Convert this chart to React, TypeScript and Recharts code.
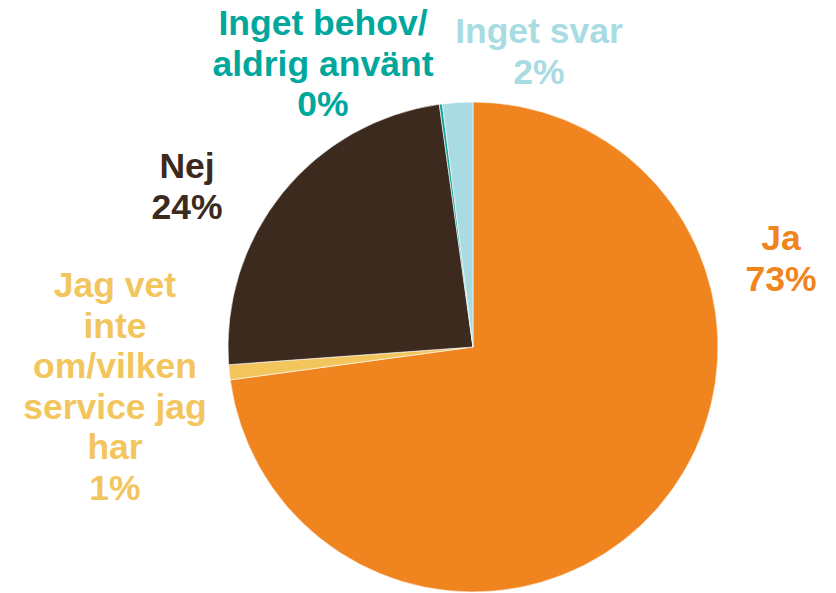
import { Cell, Pie, PieChart } from 'recharts';

// Survey answers, clockwise from 12 o'clock
const categories = ['Ja', 'Jag vet inte om/vilken service jag har', 'Nej', 'Inget behov/ aldrig använt', 'Inget svar'];
const shares = [73, 1, 24, 0.2, 2];
const labelLines = [
  ['Ja'],
  ['Jag vet', 'inte', 'om/vilken', 'service jag', 'har'],
  ['Nej'],
  ['Inget behov/', 'aldrig använt'],
  ['Inget svar'],
];

const COLORS = ['#F0841F', '#F3C55D', '#3B2A1D', '#0FA49B', '#A9DCE2'];
const LABEL_COLORS = ['#F0841F', '#F3C55D', '#3B2A1D', '#00A79D', '#A9DCE2'];

// label block anchor (centre x, first baseline) relative to pie centre
const LABEL_OFFSETS = [
  [308, -97],
  [-358, -50],
  [-286, -169],
  [-150, -312],
  [66, -304],
];

const WIDTH = 836;
const HEIGHT = 593;
const CX = 473;
const CY = 347;
const RADIUS = 245;
const LINE_H = 40.5;

const data = categories.map((name, i) => ({ name, value: shares[i] }));

function renderLabel(props: any) {
  const { cx, cy, index, percent } = props;
  const [dx, dy] = LABEL_OFFSETS[index];
  const lines = [...labelLines[index], `${Math.round(percent * 100)}%`];
  return (
    <text
      key={index}
      x={cx + dx}
      y={cy + dy}
      textAnchor="middle"
      fill={LABEL_COLORS[index]}
      fontFamily="'Liberation Sans', Arial, sans-serif"
      fontWeight="bold"
      fontSize={35.5}
    >
      {lines.map((line, i) => (
        <tspan key={i} x={cx + dx} dy={i === 0 ? 0 : LINE_H}>
          {line}
        </tspan>
      ))}
    </text>
  );
}

// soft halo around the sectors only, labels stay crisp
const css = `
.survey-pie .recharts-pie-sectors { filter: drop-shadow(0 0 5px rgba(0,0,0,0.35)); }
`;

export default function App() {
  return (
    <div style={{ position: 'absolute', left: 0, top: 0, background: '#fff' }}>
      <style>{css}</style>
      <PieChart width={WIDTH} height={HEIGHT} margin={{ top: 0, right: 0, bottom: 0, left: 0 }}>
        <Pie
          className="survey-pie"
          data={data}
          dataKey="value"
          cx={CX}
          cy={CY}
          outerRadius={RADIUS}
          startAngle={90}
          endAngle={-270}
          stroke="#ffffff"
          strokeWidth={0.6}
          labelLine={false}
          label={renderLabel}
          isAnimationActive={false}
        >
          {data.map((_, i) => (
            <Cell key={i} fill={COLORS[i]} />
          ))}
        </Pie>
      </PieChart>
    </div>
  );
}
